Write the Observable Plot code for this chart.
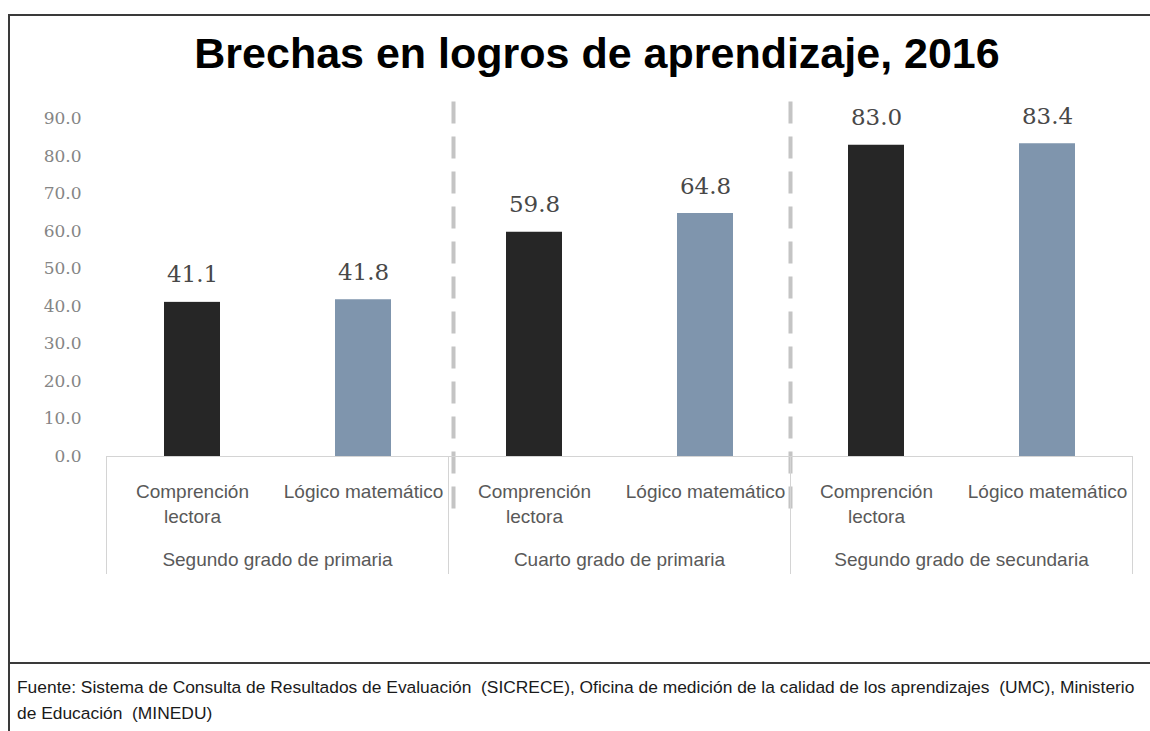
<!DOCTYPE html>
<html>
<head>
<meta charset="utf-8">
<script src="https://cdn.jsdelivr.net/npm/d3@7"></script>
<script src="https://cdn.jsdelivr.net/npm/@observablehq/plot@0.6"></script>
<style>
  html, body { margin: 0; padding: 0; background: #fff; }
  #wrap { position: relative; width: 1150px; height: 731px; overflow: hidden; background: #fff; }
  #box { position: absolute; left: 8px; top: 14px; width: 1160px; height: 740px; border: 2px solid #3a3a3a; box-sizing: border-box; }
  #rule { position: absolute; left: 8px; top: 662px; width: 1150px; height: 2px; background: #3a3a3a; }
  #title { position: absolute; left: 0; top: 31.6px; width: 1194px; text-align: center; font-family: "Liberation Sans", Arial, sans-serif; font-weight: bold; font-size: 43px; line-height: 43px; color: #000; white-space: nowrap; }
  #chart { position: absolute; left: 0; top: 85px; }
  #note { position: absolute; left: 17px; top: 674px; font-family: "Liberation Sans", Arial, sans-serif; font-size: 17.4px; line-height: 26px; color: #1a1a1a; white-space: pre; }
</style>
</head>
<body>
<div id="wrap">
  <div id="box"></div>
  <div id="rule"></div>
  <div id="title">Brechas en logros de aprendizaje, 2016</div>
  <div id="chart"></div>
  <div id="note"></div>
</div>
<script>
// ---- data ----
const groups = ["Segundo grado de primaria", "Cuarto grado de primaria", "Segundo grado de secundaria"];
const categories = ["Comprención lectora", "Lógico matemático"];
const categoryLabels = ["Comprención\nlectora", "Lógico matemático"];
const lectora = [41.1, 59.8, 83.0];
const matematico = [41.8, 64.8, 83.4];
const yTicks = [0, 10, 20, 30, 40, 50, 60, 70, 80, 90];
const barColors = ["#262626", "#7f95ad"];
const noteLines = [
  "Fuente: Sistema de Consulta de Resultados de Evaluación  (SICRECE), Oficina de medición de la calidad de los aprendizajes  (UMC), Ministerio",
  "de Educación  (MINEDU)"
];

const data = groups.flatMap((g, i) => [
  {group: g, cat: categories[0], value: lectora[i]},
  {group: g, cat: categories[1], value: matematico[i]}
]);

const sans = '"Liberation Sans", Arial, sans-serif';
const dashed = {stroke: "#c4c4c4", strokeWidth: 4, strokeDasharray: "18,17", insetTop: -15.5, insetBottom: -67};

const chart = Plot.plot({
  width: 1150,
  height: 500,
  marginLeft: 105,
  marginRight: 17,
  marginTop: 33.5,
  marginBottom: 129,
  style: {background: "transparent", overflow: "visible"},
  fx: {domain: groups, padding: 0, label: null},
  x: {domain: categories, paddingInner: 0.673, paddingOuter: 0.3365, label: null},
  y: {domain: [0, 90], label: null},
  color: {domain: categories, range: barColors},
  marks: [
    Plot.frame({anchor: "left", fx: [groups[1]], dx: 5, ...dashed}),
    Plot.frame({anchor: "left", fx: [groups[2]], ...dashed}),
    Plot.frame({anchor: "left", insetTop: 337.5, insetBottom: -117, stroke: "#d4d4d4"}),
    Plot.frame({anchor: "right", insetTop: 337.5, insetBottom: -117, stroke: "#d4d4d4"}),
    Plot.barY(data, {fx: "group", x: "cat", y: "value", fill: "cat"}),
    Plot.ruleY([0], {stroke: "#d4d4d4"}),
    Plot.text(data, {fx: "group", x: "cat", y: "value", text: d => d.value.toFixed(1), lineAnchor: "bottom", dy: -20, fontSize: 23, fontFamily: "DejaVu Serif", fill: "#484848"}),
    Plot.axisY({ticks: yTicks, tickFormat: d => d.toFixed(1), tickSize: 0, tickPadding: 25, fontSize: 17, fontFamily: "DejaVu Serif", fill: "#858585", label: null}),
    Plot.axisX({tickSize: 0, tickPadding: 23.5, tickFormat: c => categoryLabels[categories.indexOf(c)], fontSize: 19, lineHeight: 1.316, fontFamily: sans, fill: "#595959", label: null}),
    Plot.axisFx({anchor: "bottom", tickSize: 0, tickPadding: 95.5, fontSize: 19, fontFamily: sans, fill: "#595959", label: null})
  ]
});
document.getElementById("chart").appendChild(chart);
document.getElementById("note").textContent = noteLines.join("\n");
</script>
</body>
</html>
